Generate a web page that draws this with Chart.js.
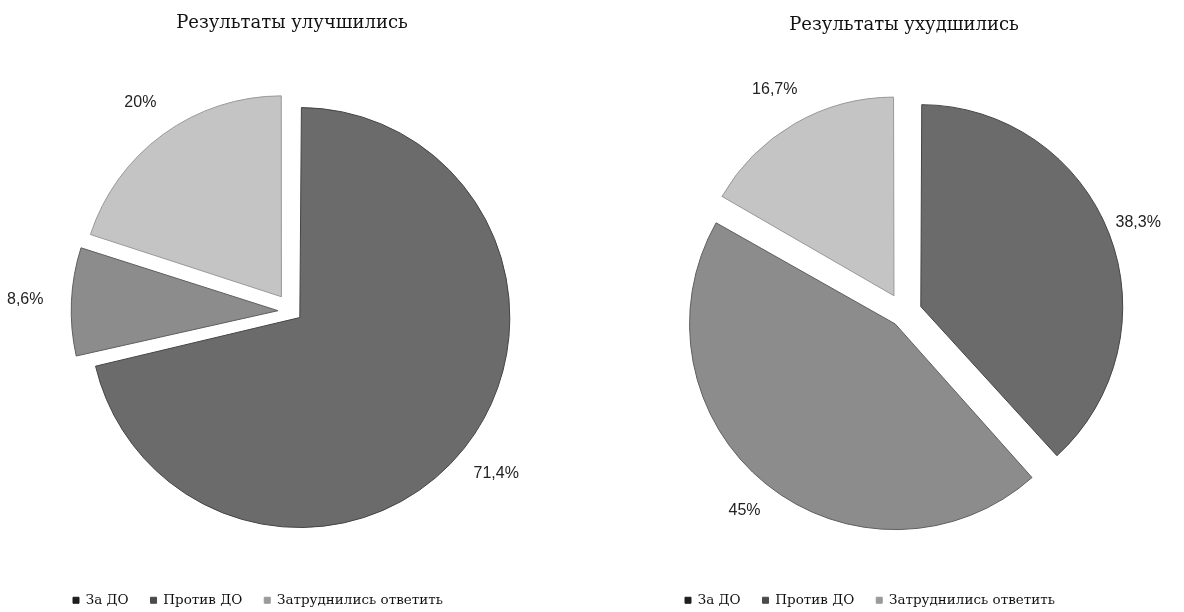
<!DOCTYPE html>
<html>
<head>
<meta charset="utf-8">
<script src="https://cdn.jsdelivr.net/npm/chart.js@4/dist/chart.umd.min.js"></script>
<style>
  html, body { margin: 0; padding: 0; background: #fff; }
  .wrap { display: flex; width: 1184px; height: 612px; }
  .box { position: relative; width: 592px; height: 612px; }
</style>
</head>
<body>
<div class="wrap">
  <div class="box"><canvas id="pieBetter"></canvas></div>
  <div class="box"><canvas id="pieWorse"></canvas></div>
</div>
<script>
// ------------------- Data ------------------- //
const categories = ["За ДО", "Против ДО", "Затруднились ответить"];
const betterValues = [71.4, 8.6, 20];
const worseValues = [38.3, 45, 16.7];
const titles = ["Результаты улучшились", "Результаты ухудшились"];

// slice greys, borders and the darker legend squares
const sliceColors = ["#6b6b6b", "#8c8c8c", "#c4c4c4"];
const sliceBorders = ["#444444", "#5e5e5e", "#999999"];
const legendColors = ["#1e1e1e", "#4a4a4a", "#9a9a9a"];

const serif = "'DejaVu Serif', 'Liberation Serif', serif";

// ------------------- Helpers ------------------- //

// 71.4 -> "71,4%"
function pct(v) {
  return String(v).replace(".", ",") + "%";
}

// Draw value labels just outside each slice
const outsideLabels = {
  id: "outsideLabels",
  afterDatasetsDraw(chart, args, opts) {
    const ctx = chart.ctx;
    const meta = chart.getDatasetMeta(0);
    const values = chart.data.datasets[0].data;
    ctx.save();
    ctx.font = "16px 'Liberation Sans', Arial, sans-serif";
    ctx.fillStyle = "#222";
    ctx.textAlign = "center";
    ctx.textBaseline = "middle";
    meta.data.forEach((arc, i) => {
      const p = arc.getProps(["x", "y", "startAngle", "endAngle", "outerRadius"], true);
      const mid = (p.startAngle + p.endAngle) / 2;
      const dist = p.outerRadius + opts.shift[i] + opts.gap[i];
      ctx.fillText(pct(values[i]), p.x + Math.cos(mid) * dist, p.y + Math.sin(mid) * dist);
    });
    ctx.restore();
  },
};

// Build one pie chart
function makePie(id, values, title, cfg) {
  const ctx = document.getElementById(id).getContext("2d");
  return new Chart(ctx, {
    type: "pie",
    data: {
      labels: categories,
      datasets: [
        {
          data: values,
          backgroundColor: sliceColors,
          borderColor: sliceBorders,
          borderWidth: 1,
          offset: cfg.shift.map(s => s * 4), // Chart.js moves a slice by offset / 4
          radius: cfg.radius,
          clip: false,
        },
      ],
    },
    options: {
      responsive: true,
      maintainAspectRatio: false,
      animation: false,
      layout: { padding: cfg.padding },
      plugins: {
        tooltip: { enabled: false },
        title: {
          display: true,
          text: title,
          color: "#111",
          font: { family: serif, size: 18, weight: "normal" },
          padding: cfg.titlePad,
        },
        legend: {
          position: "bottom",
          align: "start",
          labels: {
            color: "#111",
            font: { family: serif, size: 13.5 },
            boxWidth: 6,
            boxHeight: 6,
            padding: 22,
            generateLabels(chart) {
              const items = Chart.overrides.pie.plugins.legend.labels.generateLabels(chart);
              items.forEach((it, i) => {
                it.fillStyle = legendColors[i];
                it.strokeStyle = legendColors[i];
              });
              return items;
            },
          },
          onClick: null,
        },
        outsideLabels: { shift: cfg.shift, gap: cfg.labelGap },
      },
    },
    plugins: [outsideLabels],
  });
}

// ------------------- Initialize ------------------- //
makePie("pieBetter", betterValues, titles[0], {
  shift: [10, 14, 18],
  radius: 200,
  labelGap: [51, 53, 40],
  padding: { left: 51, right: 59, top: 0, bottom: -5 },
  titlePad: { top: 13, bottom: 16.5 },
});

makePie("pieWorse", worseValues, titles[1], {
  shift: [18, 14, 20],
  radius: 196,
  labelGap: [37, 44, 42],
  padding: { left: 71, right: 39, top: 0, bottom: -5 },
  titlePad: { top: 15, bottom: 18 },
});
</script>
</body>
</html>
